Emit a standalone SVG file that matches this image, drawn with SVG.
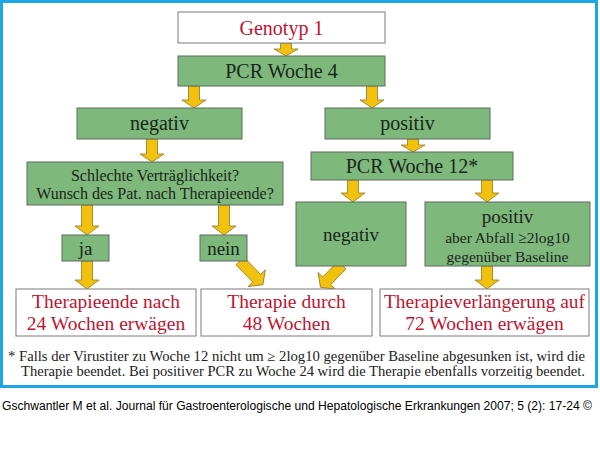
<svg xmlns="http://www.w3.org/2000/svg" width="600" height="451" viewBox="0 0 600 451">
<style>
.g{fill:#7fb87c;stroke:#5f6d5f;stroke-width:1}
.w{fill:#ffffff;stroke:#7a7a7a;stroke-width:1}
.t{font-family:"Liberation Serif","Times New Roman",serif;fill:#1a261a;text-anchor:middle}
.r{font-family:"Liberation Serif","Times New Roman",serif;fill:#c4122f;text-anchor:middle;font-size:19.5px}
.arr{fill:#f2c10e;stroke:#8c7a2a;stroke-width:0.8}
.fn{font-family:"Liberation Serif","Times New Roman",serif;fill:#222;font-size:14px}
</style>
<rect x="0" y="0" width="600" height="451" fill="#ffffff"/>
<rect x="1.5" y="1.5" width="595" height="385" fill="#ffffff" stroke="#1ea6e4" stroke-width="3"/>

<g id="connectors">
<polygon class="arr" points="280.5,43 291.5,43 291.5,49 298,49 286,56 274,49 280.5,49"/>
<polygon class="arr" points="188.5,86 199.5,86 199.5,100 206,100 194,108 182,100 188.5,100"/>
<polygon class="arr" points="366.5,86 377.5,86 377.5,100 384,100 372,108 360,100 366.5,100"/>
<polygon class="arr" points="146.5,139 157.5,139 157.5,154 164,154 152,162 140,154 146.5,154"/>
<polygon class="arr" points="407.5,139 418.5,139 418.5,145 425,145 413,152 401,145 407.5,145"/>
<polygon class="arr" points="81.5,205 92.5,205 92.5,226 99,226 87,235 75,226 81.5,226"/>
<polygon class="arr" points="218.5,205 229.5,205 229.5,226 236,226 224,235 212,226 218.5,226"/>
<polygon class="arr" points="81.5,261 92.5,261 92.5,280 99,280 87,289 75,280 81.5,280"/>
<polygon class="arr" points="347.5,180 358.5,180 358.5,193 365,193 353,202 341,193 347.5,193"/>
<polygon class="arr" points="481.5,180 492.5,180 492.5,193 499,193 487,202 475,193 481.5,193"/>
<polygon class="arr" points="481.5,266 492.5,266 492.5,280 499,280 487,289 475,280 481.5,280"/>
<polygon class="arr" transform="translate(240,261) rotate(-44)" points="-5.5,0 5.5,0 5.5,24 12,24 0,33 -12,24 -5.5,24"/>
<polygon class="arr" transform="translate(342,265) rotate(44)" points="-5.5,0 5.5,0 5.5,22 12,22 0,31 -12,22 -5.5,22"/>
</g>

<g id="genotyp">
<rect class="w" x="178" y="12" width="207" height="31"/>
<text class="r" x="281.5" y="35" style="font-size:20px">Genotyp 1</text>
</g>
<g id="pcr4">
<rect class="g" x="178" y="56" width="207" height="30"/>
<text class="t" x="281.5" y="78" font-size="20">PCR Woche 4</text>
</g>
<g id="neg1">
<rect class="g" x="77" y="108" width="165" height="31"/>
<text class="t" x="159.5" y="130" font-size="20">negativ</text>
</g>
<g id="pos1">
<rect class="g" x="325" y="108" width="165" height="31"/>
<text class="t" x="407.5" y="130" font-size="20">positiv</text>
</g>
<g id="frage">
<rect class="g" x="27" y="162" width="256" height="43"/>
<text class="t" x="155" y="181" font-size="16">Schlechte Verträglichkeit?</text>
<text class="t" x="155" y="199" font-size="16">Wunsch des Pat. nach Therapieende?</text>
</g>
<g id="pcr12">
<rect class="g" x="311" y="152" width="202" height="28"/>
<text class="t" x="412" y="173" font-size="20">PCR Woche 12*</text>
</g>
<g id="neg2">
<rect class="g" x="296" y="202" width="110" height="64"/>
<text class="t" x="351" y="241" font-size="19">negativ</text>
</g>
<g id="pos2">
<rect class="g" x="425" y="202" width="165" height="64"/>
<text class="t" x="507.5" y="223" font-size="19">positiv</text>
<text class="t" x="507.5" y="243" font-size="15.5">aber Abfall ≥2log10</text>
<text class="t" x="507.5" y="262" font-size="15.5">gegenüber Baseline</text>
</g>
<g id="ja">
<rect class="g" x="62" y="235" width="47" height="26"/>
<text class="t" x="85.5" y="255" font-size="19">ja</text>
</g>
<g id="nein">
<rect class="g" x="200" y="235" width="47" height="26"/>
<text class="t" x="223.5" y="255" font-size="19">nein</text>
</g>
<g id="ende24">
<rect class="w" x="16" y="289" width="180" height="47"/>
<text class="r" x="106" y="308">Therapieende nach</text>
<text class="r" x="106" y="330">24 Wochen erwägen</text>
</g>
<g id="ende48">
<rect class="w" x="201" y="289" width="171" height="47"/>
<text class="r" x="286.5" y="308">Therapie durch</text>
<text class="r" x="286.5" y="330">48 Wochen</text>
</g>
<g id="ende72">
<rect class="w" x="380" y="289" width="209" height="47"/>
<text class="r" x="484.5" y="308" textLength="201" lengthAdjust="spacingAndGlyphs">Therapieverlängerung auf</text>
<text class="r" x="484.5" y="330">72 Wochen erwägen</text>
</g>

<text class="fn" x="8" y="361" textLength="577" lengthAdjust="spacingAndGlyphs">* Falls der Virustiter zu Woche 12 nicht um ≥ 2log10 gegenüber Baseline abgesunken ist, wird die</text>
<text class="fn" x="21" y="376" textLength="564" lengthAdjust="spacingAndGlyphs">Therapie beendet. Bei positiver PCR zu Woche 24 wird die Therapie ebenfalls vorzeitig beendet.</text>
<text x="2" y="410" font-family="Liberation Sans, Arial, sans-serif" font-size="12" fill="#000" textLength="590" lengthAdjust="spacingAndGlyphs">Gschwantler M et al. Journal für Gastroenterologische und Hepatologische Erkrankungen 2007; 5 (2): 17-24 ©</text>
</svg>
